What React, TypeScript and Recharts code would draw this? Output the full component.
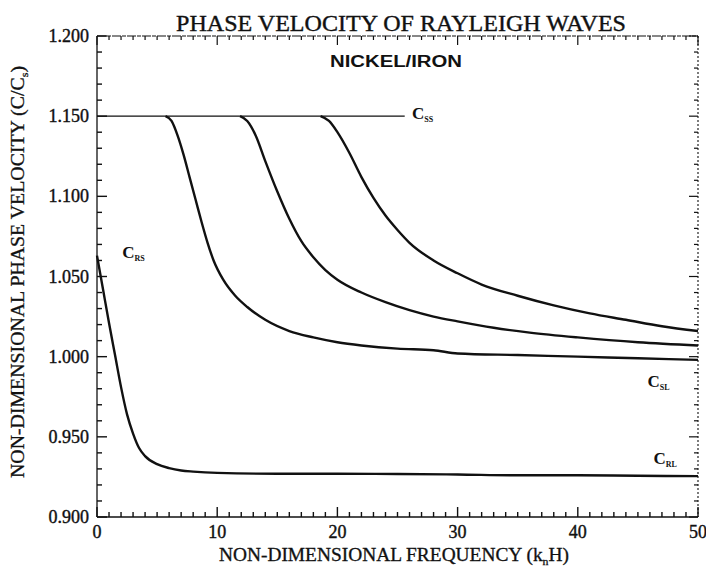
import React from "react";
import { LineChart, Line, XAxis, YAxis, ReferenceDot } from "recharts";

// Plot box (page pixels) and axis domains
const W = 706;
const H = 574;
const LEFT = 97;
const RIGHT = 698;
const TOP = 36;
const BOTTOM = 517;
const X_DOMAIN = [0, 50];
const Y_DOMAIN = [0.9, 1.2];

const SERIF = "'Liberation Serif', 'DejaVu Serif', serif";
const INK = "#111";

// Tick positions
const xTicks = [
  0, 1, 2, 3, 4, 5, 6, 7, 8, 9, 10, 11, 12, 13, 14, 15, 16, 17, 18, 19, 20, 21, 22, 23, 24, 25,
  26, 27, 28, 29, 30, 31, 32, 33, 34, 35, 36, 37, 38, 39, 40, 41, 42, 43, 44, 45, 46, 47, 48, 49, 50,
];
const xLabels = [0, 10, 20, 30, 40, 50];
const yTicks = [
  0.9, 0.91, 0.92, 0.93, 0.94, 0.95, 0.96, 0.97, 0.98, 0.99, 1.0, 1.01, 1.02, 1.03, 1.04, 1.05,
  1.06, 1.07, 1.08, 1.09, 1.1, 1.11, 1.12, 1.13, 1.14, 1.15, 1.16, 1.17, 1.18, 1.19, 1.2,
];
const yLabels = [0.9, 0.95, 1.0, 1.05, 1.1, 1.15, 1.2];

// Limiting velocity (substrate shear)
const limitFreq = [0, 25.6];
const limitVel = [1.15, 1.15];

// Fundamental mode
const mode0Freq = [0, 0.5, 1, 1.5, 2, 2.5, 3, 3.5, 4, 5, 6, 7, 8, 10, 15, 20, 25, 30, 35, 40, 45, 50];
const mode0Vel = [
  1.063, 1.042, 1.021, 1.001, 0.981, 0.964, 0.952, 0.943, 0.938, 0.933, 0.9305, 0.929, 0.9283,
  0.9275, 0.927, 0.927, 0.9268, 0.9265, 0.926, 0.926, 0.9257, 0.9255,
];

// First higher mode
const mode1Freq = [
  5.7, 6.2, 6.7, 7.2, 7.7, 8.2, 8.7, 9.2, 9.7, 10.5, 11.5, 12.5, 14, 16, 18, 20, 22, 25, 28, 30, 35,
  40, 45, 50,
];
const mode1Vel = [
  1.15, 1.147, 1.138, 1.126, 1.112, 1.098, 1.084, 1.071, 1.06, 1.048, 1.038, 1.031, 1.023, 1.016,
  1.012, 1.009, 1.007, 1.005, 1.004, 1.002, 1.001, 1.0, 0.999, 0.998,
];

// Second higher mode
const mode2Freq = [
  11.9, 12.5, 13.2, 14, 15, 16, 17, 18, 19, 20, 22, 24, 26, 28, 30, 33, 36, 40, 45, 50,
];
const mode2Vel = [
  1.15, 1.147, 1.138, 1.122, 1.103, 1.086, 1.072, 1.062, 1.054, 1.048, 1.04, 1.034, 1.029, 1.025,
  1.022, 1.018, 1.015, 1.012, 1.009, 1.007,
];

// Third higher mode
const mode3Freq = [18.6, 19.3, 20, 21, 22, 23, 24, 25, 26, 28, 30, 32, 35, 38, 41, 44, 47, 50];
const mode3Vel = [
  1.15, 1.147, 1.14, 1.127, 1.112, 1.099, 1.088, 1.079, 1.071, 1.06, 1.052, 1.045, 1.038, 1.032,
  1.027, 1.023, 1.019, 1.016,
];

const toPoints = (f: number[], v: number[]) => f.map((x, i) => ({ f: x, v: v[i] }));

const curves = [
  { id: "limit", data: toPoints(limitFreq, limitVel), width: 1.3 },
  { id: "m0", data: toPoints(mode0Freq, mode0Vel), width: 2.4 },
  { id: "m1", data: toPoints(mode1Freq, mode1Vel), width: 2.4 },
  { id: "m2", data: toPoints(mode2Freq, mode2Vel), width: 2.4 },
  { id: "m3", data: toPoints(mode3Freq, mode3Vel), width: 2.4 },
];

// Curve annotations: anchor (freq, velocity) and subscript
const curveLabels = [
  { f: 26.2, v: 1.152, sub: "SS" },
  { f: 2.1, v: 1.065, sub: "RS" },
  { f: 45.8, v: 0.985, sub: "SL" },
  { f: 46.3, v: 0.937, sub: "RL" },
];

const isMajorX = (f: number) => f % 10 === 0;
const isMajorY = (v: number) => Math.round(v * 100) % 5 === 0;

// Bottom axis: inward tick, matching tick on the top frame, label on majors
const renderBottomTick = (props: any) => {
  const { x, payload } = props;
  const major = isMajorX(payload.value);
  return (
    <g key={`b${payload.value}`}>
      <rect x={x - 0.7} y={BOTTOM - (major ? 10 : 5)} width={1.4} height={major ? 10 : 5} fill={INK} />
      <rect x={x - 0.6} y={TOP} width={1.2} height={major ? 9 : 4} fill={INK} />
      {xLabels.includes(payload.value) && (
        <text
          x={x}
          y={BOTTOM + 21}
          textAnchor="middle"
          fontFamily={SERIF}
          fontSize={18}
          fill={INK}
          stroke={INK}
          strokeWidth={0.4}
        >
          {payload.value}
        </text>
      )}
    </g>
  );
};

// Left axis: inward tick, matching tick on the right frame, label on majors
const renderLeftTick = (props: any) => {
  const { y, payload } = props;
  const major = isMajorY(payload.value);
  return (
    <g key={`l${payload.value}`}>
      <rect x={LEFT} y={y - 0.7} width={major ? 10 : 5} height={1.4} fill={INK} />
      <rect x={RIGHT - (major ? 9 : 4)} y={y - 0.6} width={major ? 9 : 4} height={1.2} fill={INK} />
      {yLabels.some((l) => Math.abs(l - payload.value) < 1e-6) && (
        <text
          x={LEFT - 8}
          y={y + 6}
          textAnchor="end"
          fontFamily={SERIF}
          fontSize={18}
          fill={INK}
          stroke={INK}
          strokeWidth={0.4}
        >
          {payload.value.toFixed(3)}
        </text>
      )}
    </g>
  );
};

function CurveLabel({ viewBox, sub }: any) {
  const { x, y } = viewBox;
  return (
    <text x={x} y={y + 6} fontFamily={SERIF} fontWeight="bold" fontSize={17} fill={INK}>
      C
      <tspan fontSize={8} dy={3}>
        {sub}
      </tspan>
    </text>
  );
}

export default function App() {
  return (
    <div style={{ position: "absolute", left: 0, top: 0, width: W, height: H, background: "#fff" }}>
      <LineChart width={W} height={H} margin={{ top: 0, right: 0, bottom: 0, left: 0 }}>
        <XAxis
          xAxisId="bottom"
          dataKey="f"
          type="number"
          domain={X_DOMAIN}
          ticks={xTicks}
          interval={0}
          height={H - BOTTOM}
          tickLine={false}
          axisLine={{ stroke: INK, strokeWidth: 1.3 }}
          tick={renderBottomTick}
        />
        <XAxis
          xAxisId="top"
          orientation="top"
          dataKey="f"
          type="number"
          domain={X_DOMAIN}
          height={TOP}
          tickLine={false}
          tick={false}
          axisLine={{ stroke: INK, strokeWidth: 1.2, strokeDasharray: "9 1 4 1" }}
        />
        <YAxis
          yAxisId="left"
          type="number"
          domain={Y_DOMAIN}
          ticks={yTicks}
          interval={0}
          width={LEFT}
          tickLine={false}
          axisLine={{ stroke: INK, strokeWidth: 1.3 }}
          tick={renderLeftTick}
        />
        <YAxis
          yAxisId="right"
          orientation="right"
          type="number"
          domain={Y_DOMAIN}
          width={W - RIGHT}
          tickLine={false}
          tick={false}
          axisLine={{ stroke: INK, strokeWidth: 1.1, strokeDasharray: "2 2" }}
        />
        {curves.map((c) => (
          <Line
            key={c.id}
            data={c.data}
            dataKey="v"
            xAxisId="bottom"
            yAxisId="left"
            type="monotone"
            stroke={INK}
            strokeWidth={c.width}
            dot={false}
            activeDot={false}
            isAnimationActive={false}
          />
        ))}
        {curveLabels.map((l) => (
          <ReferenceDot
            key={l.sub}
            x={l.f}
            y={l.v}
            xAxisId="bottom"
            yAxisId="left"
            r={0}
            fill="none"
            stroke="none"
            label={(p: any) => <CurveLabel {...p} sub={l.sub} />}
          />
        ))}
      </LineChart>
      <svg
        width={W}
        height={H}
        style={{ position: "absolute", left: 0, top: 0, pointerEvents: "none" }}
      >
        <text
          x={401}
          y={31}
          textAnchor="middle"
          fontFamily={SERIF}
          fontSize={24}
          textLength={450}
          lengthAdjust="spacingAndGlyphs"
          fill={INK}
          stroke={INK}
          strokeWidth={0.4}
        >
          PHASE VELOCITY OF RAYLEIGH WAVES
        </text>
        <text
          x={396}
          y={67}
          textAnchor="middle"
          fontFamily="'Liberation Sans', Arial, sans-serif"
          fontWeight="bold"
          fontSize={16}
          textLength={132}
          lengthAdjust="spacingAndGlyphs"
          fill={INK}
        >
          NICKEL/IRON
        </text>
        <text
          x={394}
          y={561}
          textAnchor="middle"
          fontFamily={SERIF}
          fontSize={18}
          textLength={350}
          lengthAdjust="spacingAndGlyphs"
          fill={INK}
          stroke={INK}
          strokeWidth={0.3}
        >
          NON-DIMENSIONAL FREQUENCY (k<tspan fontSize={11} dy={4}>n</tspan>
          <tspan dy={-4}>H)</tspan>
        </text>
        <text
          transform="translate(24, 272) rotate(-90)"
          textAnchor="middle"
          fontFamily={SERIF}
          fontSize={18}
          textLength={412}
          lengthAdjust="spacingAndGlyphs"
          fill={INK}
          stroke={INK}
          strokeWidth={0.3}
        >
          NON-DIMENSIONAL PHASE VELOCITY (C/C<tspan fontSize={11} dy={4}>s</tspan>
          <tspan dy={-4}>)</tspan>
        </text>
      </svg>
    </div>
  );
}
